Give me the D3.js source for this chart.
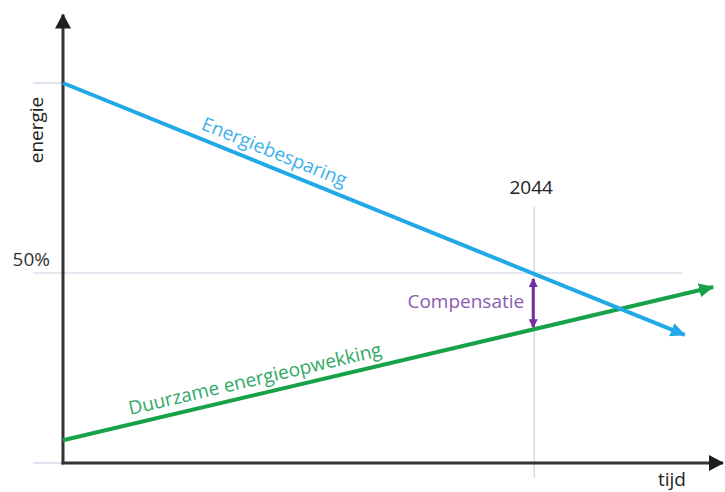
<!DOCTYPE html>
<html>
<head>
<meta charset="utf-8">
<script src="https://cdn.jsdelivr.net/npm/d3@7"></script>
<style>
  html, body { margin: 0; padding: 0; background: #fff; }
  svg text { font-family: "Open Sans", sans-serif; }
</style>
</head>
<body>
<svg class="chart" width="725" height="492"></svg>
<script>
// values (abstract units: tijd 0..100, energie 0..100 %)
const besparing = [{ t: 0, e: 100 }, { t: 94.2, e: 33.7 }];
const opwekking = [{ t: 0, e: 6 }, { t: 98.5, e: 46.3 }];
const levelTicks = [{ v: 100, label: '' }, { v: 50, label: '50%' }, { v: 0, label: '' }];
const yearMarker = { t: 71.4, label: '2044' };
const axisEnds = { t: 100, e: 118 };

const svg = d3.select('.chart');
const xs = d3.scaleLinear().domain([0, 100]).range([63, 723]);
const ys = d3.scaleLinear().domain([0, 100]).range([463, 83]);

const lineGen = d3.line().x(d => xs(d.t)).y(d => ys(d.e));

const defs = svg.append('defs');
const addArrow = (id, color, w, h) => {
    defs.append('marker')
        .attr('id', id)
        .attr('markerUnits', 'userSpaceOnUse')
        .attr('viewBox', `0 0 ${h} ${w}`)
        .attr('refX', h - 1)
        .attr('refY', w / 2)
        .attr('markerWidth', h)
        .attr('markerHeight', w)
        .attr('orient', 'auto-start-reverse')
        .append('path')
        .attr('d', `M0,0 L${h},${w / 2} L0,${w} Z`)
        .attr('fill', color);
};
addArrow('arrow-axis', '#1e1e1e', 16, 15);
addArrow('arrow-blue', '#21a8e6', 14, 15);
addArrow('arrow-green', '#17a24a', 14, 15);
addArrow('arrow-purple', '#7030a0', 9, 9);

const gridColor = '#c9d1e3';

// level ticks on the left
svg.append('g')
    .selectAll('line')
    .data(levelTicks)
    .enter()
    .append('line')
    .attr('x1', 33)
    .attr('x2', d => d.v === 50 ? 683 : xs(0))
    .attr('y1', d => ys(d.v))
    .attr('y2', d => ys(d.v))
    .attr('stroke', gridColor)
    .attr('stroke-width', 1.2);

svg.append('g')
    .selectAll('text')
    .data(levelTicks.filter(d => d.label))
    .enter()
    .append('text')
    .attr('x', 50)
    .attr('y', d => ys(d.v) - 7)
    .attr('text-anchor', 'end')
    .attr('font-size', 19)
    .attr('fill', '#333')
    .text(d => d.label);

// year marker
svg.append('line')
    .attr('x1', xs(yearMarker.t)).attr('x2', xs(yearMarker.t))
    .attr('y1', 207).attr('y2', 478)
    .attr('stroke', gridColor)
    .attr('stroke-width', 1.2);

svg.append('text')
    .attr('x', xs(yearMarker.t) - 3)
    .attr('y', 194)
    .attr('text-anchor', 'middle')
    .attr('font-size', 19)
    .attr('fill', '#222')
    .text(yearMarker.label);

// axes
svg.append('line')
    .attr('x1', xs(0)).attr('y1', ys(0) + 1.5)
    .attr('x2', xs(0)).attr('y2', ys(axisEnds.e))
    .attr('stroke', '#333').attr('stroke-width', 3)
    .attr('marker-end', 'url(#arrow-axis)');

svg.append('line')
    .attr('x1', xs(0) - 1.5).attr('y1', ys(0))
    .attr('x2', xs(axisEnds.t)).attr('y2', ys(0))
    .attr('stroke', '#333').attr('stroke-width', 3)
    .attr('marker-end', 'url(#arrow-axis)');

svg.append('text')
    .attr('transform', `translate(43, 130) rotate(-90)`)
    .attr('text-anchor', 'middle')
    .attr('font-size', 19)
    .attr('fill', '#222')
    .text('energie');

svg.append('text')
    .attr('x', 658)
    .attr('y', 486)
    .attr('font-size', 19)
    .attr('fill', '#222')
    .text('tijd');

// series lines
svg.append('path')
    .datum(opwekking)
    .attr('d', lineGen)
    .attr('fill', 'none')
    .attr('stroke', '#17a24a')
    .attr('stroke-width', 4)
    .attr('marker-end', 'url(#arrow-green)');

svg.append('path')
    .datum(besparing)
    .attr('d', lineGen)
    .attr('fill', 'none')
    .attr('stroke', '#21a8e6')
    .attr('stroke-width', 4)
    .attr('marker-end', 'url(#arrow-blue)');

// labels along lines
const valueAt = (series, t) => {
    const [a, b] = series;
    return a.e + (b.e - a.e) * (t - a.t) / (b.t - a.t);
};
const angleOf = (series) => {
    const [a, b] = series;
    return Math.atan2(ys(b.e) - ys(a.e), xs(b.t) - xs(a.t)) * 180 / Math.PI;
};
const lineLabel = (series, t, text, color) => {
    svg.append('g')
        .attr('transform', `translate(${xs(t)}, ${ys(valueAt(series, t))}) rotate(${angleOf(series)})`)
        .append('text')
        .attr('x', 0)
        .attr('y', -9)
        .attr('font-size', 19)
        .attr('fill', color)
        .text(text);
};
lineLabel(besparing, 20.3, 'Energiebesparing', '#3eb1ec');
lineLabel(opwekking, 10.5, 'Duurzame energieopwekking', '#2fa866');

// compensation arrow
const topE = valueAt(besparing, yearMarker.t);
const botE = valueAt(opwekking, yearMarker.t);
svg.append('line')
    .attr('x1', xs(yearMarker.t) - 1).attr('x2', xs(yearMarker.t) - 1)
    .attr('y1', ys(topE) + 5).attr('y2', ys(botE) - 2)
    .attr('stroke', '#7030a0')
    .attr('stroke-width', 3)
    .attr('marker-start', 'url(#arrow-purple)')
    .attr('marker-end', 'url(#arrow-purple)');

svg.append('text')
    .attr('x', xs(yearMarker.t) - 10)
    .attr('y', (ys(topE) + ys(botE)) / 2 + 6)
    .attr('text-anchor', 'end')
    .attr('font-size', 19)
    .attr('fill', '#8a5bb0')
    .text('Compensatie');
</script>
</body>
</html>
